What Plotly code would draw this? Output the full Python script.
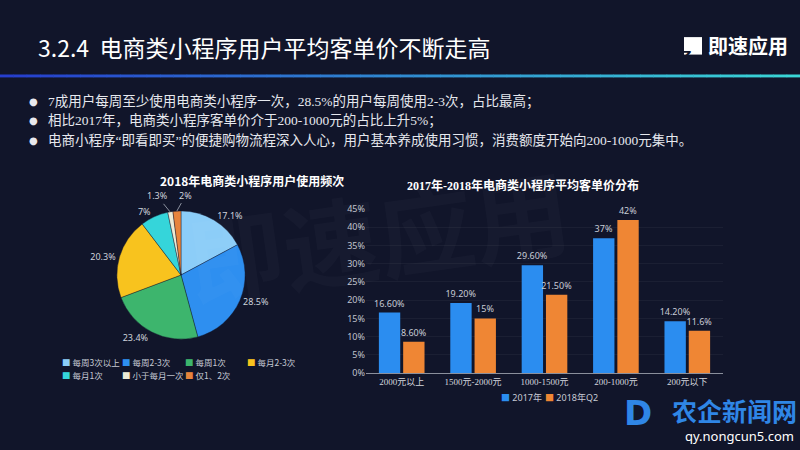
import math
import plotly.graph_objects as go

# ---------------- data ----------------
pie_labels = ["每周3次以上", "每周2-3次", "每周1次", "每月2-3次", "每月1次", "小于每月一次", "仅1、2次"]
pie_values = [17.1, 28.5, 23.4, 20.3, 7, 1.3, 2]
pie_text = ["17.1%", "28.5%", "23.4%", "20.3%", "7%", "1.3%", "2%"]
pie_colors = ["#8ccdf8", "#2e8ff0", "#3db56d", "#f8c31e", "#35d5da", "#ecebd6", "#e8843c"]

bar_categories = ["2000元以上", "1500元-2000元", "1000-1500元", "200-1000元", "200元以下"]
bar_2017 = [16.6, 19.2, 29.6, 37, 14.2]
bar_2017_text = ["16.60%", "19.20%", "29.60%", "37%", "14.20%"]
bar_2018 = [8.6, 15, 21.5, 42, 11.6]
bar_2018_text = ["8.60%", "15%", "21.50%", "42%", "11.6%"]
bar_series_names = ["2017年", "2018年Q2"]
bar_colors = ["#2b8df0", "#ef8634"]
y_ticks = [0, 5, 10, 15, 20, 25, 30, 35, 40, 45]
y_tick_labels = ["0%", "5%", "10%", "15%", "20%", "25%", "30%", "35%", "40%", "45%"]

title_text = "3.2.4  电商类小程序用户平均客单价不断走高"
bullets = [
    "7成用户每周至少使用电商类小程序一次，28.5%的用户每周使用2-3次，占比最高；",
    "相比2017年，电商类小程序客单价介于200-1000元的占比上升5%；",
    "电商小程序“即看即买”的便捷购物流程深入人心，用户基本养成使用习惯，消费额度开始向200-1000元集中。",
]
pie_title = "2018年电商类小程序用户使用频次"
bar_title = "2017年-2018年电商类小程序平均客单价分布"

# ---------------- helpers ----------------
W, H = 800, 450
BG = "#11152a"
SANS = "Noto Sans CJK SC, Noto Sans, sans-serif"
SERIF = "Liberation Serif, Noto Sans CJK SC, serif"


def px(x):
    return x / W


def py(y):
    return 1 - y / H


# pie placement (pixels)
PIE_CX, PIE_CY, PIE_R = 181, 276, 66
SMALL = 3  # slices below this share get a leader-line label
small_offsets = [(-13, -16), (9, -16)]  # label offsets for the tiny slices, in order

pie_textpos = ["none" if v < SMALL else "outside" for v in pie_values]

fig = go.Figure()

fig.add_trace(go.Pie(
    labels=pie_labels, values=pie_values, text=pie_text,
    textinfo="text", textposition=pie_textpos,
    textfont=dict(size=9, color="#cfd3dc", family="Noto Sans, sans-serif"),
    marker=dict(colors=pie_colors, line=dict(color=BG, width=0.4)),
    sort=False, direction="clockwise", rotation=0,
    domain=dict(x=[px(PIE_CX - PIE_R), px(PIE_CX + PIE_R)],
                y=[py(PIE_CY + PIE_R), py(PIE_CY - PIE_R)]),
    showlegend=False, hoverinfo="label+percent",
))

for name, vals, txt, col in [(bar_series_names[0], bar_2017, bar_2017_text, bar_colors[0]),
                             (bar_series_names[1], bar_2018, bar_2018_text, bar_colors[1])]:
    fig.add_trace(go.Bar(
        x=bar_categories, y=vals, name=name, text=txt,
        textposition="outside", cliponaxis=False, constraintext="none",
        textfont=dict(size=9, color="#c8ccd6", family="Noto Sans, sans-serif"),
        marker=dict(color=col, line=dict(width=0)),
        showlegend=False,
    ))

fig.update_layout(
    width=W, height=H,
    margin=dict(l=0, r=0, t=0, b=0),
    paper_bgcolor=BG, plot_bgcolor="rgba(0,0,0,0)",
    barmode="group", bargap=0.32, bargroupgap=0.12,
    xaxis=dict(domain=[px(366), px(723)], showgrid=False, zeroline=False,
               showline=True, linecolor="#8a8f9c", linewidth=1, ticks="",
               tickfont=dict(size=9, color="#d4d7de", family=SERIF),
               anchor="y"),
    yaxis=dict(domain=[py(377), py(208)], range=[0, 45], tickmode="array",
               tickvals=y_ticks, ticktext=y_tick_labels,
               showgrid=True, gridcolor="rgba(255,255,255,0.045)",
               zeroline=False, showline=False, ticks="",
               tickfont=dict(size=9, color="#c0c4ce", family="Noto Sans, sans-serif"),
               anchor="x"),
    font=dict(family=SANS, color="#ffffff"),
)

annotations = []
shapes = []

# leader-line labels for tiny pie slices (angles derived from the data)
total = sum(pie_values)
cum = 0.0
k_small = 0
for v, t in zip(pie_values, pie_text):
    mid = (cum + v / 2) / total * 2 * math.pi
    cum += v
    if v >= SMALL:
        continue
    ex = PIE_CX + PIE_R * math.sin(mid)
    ey = PIE_CY - PIE_R * math.cos(mid)
    ax, ay = small_offsets[k_small]
    k_small += 1
    annotations.append(dict(x=px(ex), y=py(ey), xref="paper", yref="paper",
                            text=t, showarrow=True, arrowhead=0, arrowwidth=0.8,
                            arrowcolor="#aab0bc", ax=ax, ay=ay, standoff=0,
                            font=dict(size=9, color="#cfd3dc", family="Noto Sans, sans-serif")))

# watermark (faint)
annotations.append(dict(x=px(378), y=py(232), xref="paper", yref="paper",
                        text="<b>即速应用</b>", showarrow=False, textangle=-8,
                        font=dict(size=96, color="rgba(255,255,255,0.022)", family=SANS)))

# header title
annotations.append(dict(x=px(36), y=py(41), xref="paper", yref="paper", xanchor="left",
                        yanchor="middle", text=title_text, showarrow=False,
                        font=dict(size=23, color="#ffffff", family=SANS)))

# top-right logo
annotations.append(dict(x=px(790), y=py(40), xref="paper", yref="paper", xanchor="right",
                        yanchor="middle", text="<b>即速应用</b>", showarrow=False,
                        font=dict(size=20, color="#ffffff", family=SANS)))
shapes.append(dict(type="rect", xref="paper", yref="paper",
                   x0=px(684), x1=px(702), y0=py(49), y1=py(31),
                   fillcolor="#ffffff", line=dict(width=0)))
annotations.append(dict(x=px(693), y=py(40), xref="paper", yref="paper",
                        text="<b>Z</b>", showarrow=False,
                        font=dict(size=13, color=BG, family="DejaVu Sans")))

# gradient line under header
n_seg = 60
c0 = (38, 62, 205)
c1 = (58, 214, 214)
for i in range(n_seg):
    t = i / (n_seg - 1)
    c = tuple(int(c0[k] + (c1[k] - c0[k]) * t) for k in range(3))
    shapes.append(dict(type="rect", xref="paper", yref="paper",
                       x0=px(W * i / n_seg), x1=px(W * (i + 1) / n_seg + 0.5),
                       y0=py(72.5), y1=py(69.5),
                       fillcolor="rgb(%d,%d,%d)" % c, line=dict(width=0)))

# bullets
for i, b in enumerate(bullets):
    yy = 97 + 20 * i
    annotations.append(dict(x=px(27), y=py(yy), xref="paper", yref="paper", xanchor="left",
                            yanchor="middle", text="●", showarrow=False,
                            font=dict(size=10, color="#e8e8ee", family="DejaVu Sans")))
    annotations.append(dict(x=px(46), y=py(yy), xref="paper", yref="paper", xanchor="left",
                            yanchor="middle", text=b, showarrow=False,
                            font=dict(size=13.5, color="#e6e8ee", family=SERIF)))

# chart titles
annotations.append(dict(x=px(158), y=py(179), xref="paper", yref="paper",
                        text="<b>" + pie_title + "</b>", showarrow=False,
                        font=dict(size=12, color="#ffffff", family=SANS)))
annotations.append(dict(x=px(523), y=py(184), xref="paper", yref="paper",
                        text="<b>" + bar_title + "</b>", showarrow=False,
                        font=dict(size=12, color="#ffffff", family=SERIF)))

# pie legend (manual, compact)
col_x = [60, 120, 183, 245]
for i, (lab, colr) in enumerate(zip(pie_labels, pie_colors)):
    row, col = divmod(i, 4)
    annotations.append(dict(x=px(col_x[col]), y=py(366 + 13 * row), xref="paper", yref="paper",
                            xanchor="left", yanchor="middle", showarrow=False,
                            text="<span style='color:%s'>■</span> %s" % (colr, lab),
                            font=dict(size=8.5, color="#c6cad4", family=SANS)))

# bar legend (manual, compact)
leg_x = [499, 543]
for nm, colr, lx in zip(bar_series_names, bar_colors, leg_x):
    annotations.append(dict(x=px(lx), y=py(402), xref="paper", yref="paper",
                            xanchor="left", yanchor="middle", showarrow=False,
                            text="<span style='color:%s'>■</span> %s" % (colr, nm),
                            font=dict(size=9, color="#c6cad4", family="Noto Sans, Noto Sans CJK SC")))

# bottom-right site watermark
annotations.append(dict(x=px(799), y=py(415), xref="paper", yref="paper", xanchor="right",
                        yanchor="middle", text="<b>农企新闻网</b>", showarrow=False,
                        font=dict(size=25, color="#2f86e6", family=SANS)))
annotations.append(dict(x=px(654), y=py(418), xref="paper", yref="paper", xanchor="right",
                        yanchor="middle", text="<b>D</b>", showarrow=False,
                        font=dict(size=34, color="#2f86e6", family="DejaVu Sans")))
annotations.append(dict(x=px(796), y=py(442), xref="paper", yref="paper", xanchor="right",
                        yanchor="middle", text="qy.nongcun5.com", showarrow=False,
                        font=dict(size=13, color="#ffffff", family="Noto Sans")))

fig.update_layout(annotations=annotations, shapes=shapes)

fig.write_html("out.html")
